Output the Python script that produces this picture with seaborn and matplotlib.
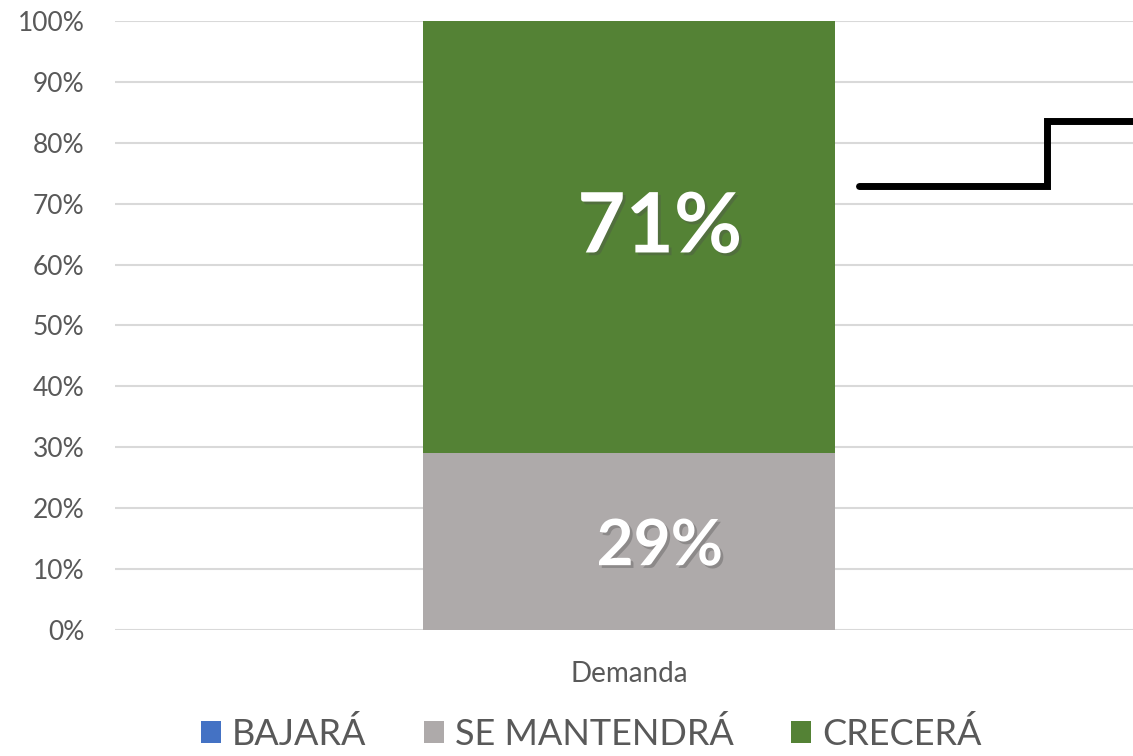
import matplotlib
matplotlib.use("Agg")
import matplotlib.pyplot as plt
import matplotlib.patheffects as pe
from matplotlib.patches import Patch
import seaborn as sns
import pandas as pd

# Data
categories = ["Demanda"]
series = ["BAJARÁ", "SE MANTENDRÁ", "CRECERÁ"]
bajara = [0]
mantendra = [29]
crecera = [71]
colors = ["#4472C4", "#AEAAAA", "#548235"]

# black step line drawn to the right of the bar (x in category units, y in %)
step_x = [0.224, 0.407, 0.407, 0.52]
step_y = [72.9, 72.9, 83.6, 83.6]

sns.set_theme(style="white")
plt.rcParams["font.family"] = ["Lato", "DejaVu Sans"]

df = pd.DataFrame({"cat": categories, "BAJARÁ": bajara,
                   "SE MANTENDRÁ": mantendra, "CRECERÁ": crecera})
df["top2"] = df["BAJARÁ"] + df["SE MANTENDRÁ"]
df["top3"] = df["top2"] + df["CRECERÁ"]

fig = plt.figure(figsize=(11.33, 7.56), dpi=100)
ax = fig.add_axes([0.1015, 0.1667, 0.9073, 0.8055])

# stacked bars drawn back to front
for col, c in zip(["top3", "top2", "BAJARÁ"], colors[::-1]):
    sns.barplot(data=df, x="cat", y=col, color=c, width=0.4, saturation=1,
                linewidth=0, ax=ax, zorder=3)

ax.set_xlim(-0.5, 0.5)
ax.set_ylim(0, 100)
ax.set_yticks(range(0, 101, 10))
ax.set_yticklabels([f"{v}%" for v in range(0, 101, 10)], fontsize=19,
                   color="#595959")
ax.tick_params(axis="x", labelsize=20, labelcolor="#595959", pad=22, length=0)
ax.tick_params(axis="y", length=0, pad=22)
ax.set_xlabel("")
ax.set_ylabel("")
ax.grid(axis="y", color="#D9D9D9", linewidth=1.5, zorder=0)
for s in ax.spines.values():
    s.set_visible(False)

# value labels
shadow = [pe.SimplePatchShadow(offset=(2, -2), alpha=0.35), pe.Normal()]
ax.text(0.03, mantendra[0] / 2, f"{mantendra[0]}%", ha="center",
        va="center_baseline", color="white", fontsize=46, fontweight="bold",
        path_effects=shadow, zorder=5)
ax.text(0.03, mantendra[0] + crecera[0] / 2 + 2.5, f"{crecera[0]}%",
        ha="center", va="center_baseline", color="white", fontsize=60,
        fontweight="bold", path_effects=shadow, zorder=5)

ax.plot(step_x, step_y, color="black", linewidth=5, solid_joinstyle="miter",
        zorder=4, clip_on=False)

handles = [Patch(facecolor=c, edgecolor="none") for c in colors]
fig.legend(handles, series, loc="lower center", bbox_to_anchor=(0.522, -0.036),
           ncol=3, frameon=False, fontsize=26, handlelength=0.55,
           handleheight=0.55, handletextpad=0.3, columnspacing=1.6,
           labelcolor="#595959")

fig.savefig("out.png", dpi=100)
